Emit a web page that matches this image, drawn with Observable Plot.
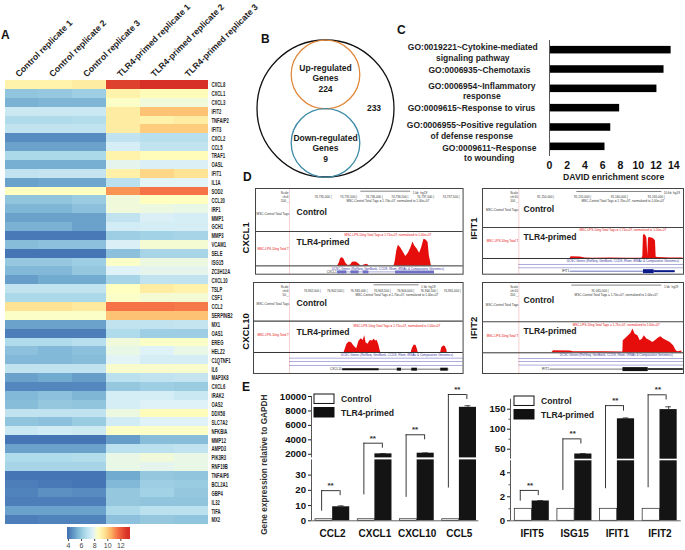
<!DOCTYPE html>
<html><head><meta charset="utf-8">
<style>
html,body{margin:0;padding:0;background:#fff}
#fig{position:relative;width:685px;height:550px;overflow:hidden;background:#fff}
.letter{position:absolute;font:bold 12px 'Liberation Sans',Arial,sans-serif;color:#111;line-height:1}
.lowtick{position:absolute;width:30px;text-align:right;font:bold 9.6px/11px 'Liberation Sans',Arial,sans-serif;color:#111;z-index:30}
</style>
<script src="https://cdn.jsdelivr.net/npm/d3@7"></script>
<script src="https://cdn.jsdelivr.net/npm/@observablehq/plot@0.6"></script>
</head><body><div id="fig"></div>
<script>
// ---------- Panel A data ----------
const replicates = ["Control replicate 1","Control replicate 2","Control replicate 3","TLR4-primed replicate 1","TLR4-primed replicate 2","TLR4-primed replicate 3"];
const genes = ["CXCL8","CXCL1","CXCL3","IFIT2","TNFAIP2","IFIT3","CXCL2","CCL5","TRAF1","OASL","IFIT1","IL1A","SOD2","CCL20","IRF1","MMP1","GCH1","MMP3","VCAM1","SELE","ISG15","ZC3H12A","CXCL10","TSLP","CSF1","CCL2","SERPINB2","MX1","OAS1","EREG","HELZ2","C1QTNF1","IL6","MAP3K8","CXCL6","IRAK2","OAS2","DDX58","SLC7A2","NFKBIA","MMP12","AMPD3","PIK3R3","RNF19B","TNFAIP6","BCL2A1","GBP4","IL32","TIFA","MX2"];
const heatRows = [
[9.0,9.0,9.2,12.6,13,13],[5.9,6.0,6.2,9,8.7,8.7],[5.4,5.5,5.5,8.5,8.2,8.2],[7.2,7.2,7.2,9.2,10.2,10.2],[6.6,6.6,6.7,9.2,9.0,9.2],
[7,7,7,9.2,10,10],[4.5,4.5,4.5,7,6.8,6.8],[5,5,5,7.5,7,7],[6.5,6.5,6.5,9,8.7,8.7],[5.3,5.3,5.3,7.9,7.6,7.6],
[7,7.1,7.1,9.1,9.8,9.5],[5,5.1,5.1,6.9,7.8,7.8],[8.6,8.6,8.6,11,11.5,11.5],[5.9,5.9,6.1,8.2,8.6,8.6],[5.5,5.5,5.8,8.2,8.1,8.0],
[5,5,5,7,7.6,7.5],[5.4,5.4,5,7.4,7.5,7.5],[4.1,4.1,4.1,6.2,6.3,6.4],[5.7,5.8,5.8,7.6,8.3,8.3],[4,4,4,5.8,6.4,6.4],
[6,6,6.2,8.5,8.1,8.1],[5.6,5.6,6,7.7,7.9,7.9],[4.9,5.2,5.2,6.4,7,7],[7,7,7,8.6,9.2,9],[6.5,6.5,6.5,8.5,8.3,8.3],
[9.5,9.5,9.3,11.5,11.5,11.4],[8.5,8.5,8.5,10.2,10.2,10.2],[5,5,5,7,7,7.1],[4.2,4.2,4.2,6.6,6.2,6.2],[6.6,6.6,6.8,8.2,8.5,8.5],
[5.8,5.6,5.8,8.0,7.7,8.0],[5.6,5.6,5.7,7.8,7.5,7.5],[7,7,7,8.4,8.4,8.4],[5.0,5.2,4.9,6.9,7,7.1],[4.4,4.4,4.4,6,6.2,6.1],
[5.6,5.8,5.5,7.5,7.5,7.2],[5.7,6,5.9,7.5,7.7,7.7],[7,7,7,8.1,8.7,8.7],[5.9,5.8,6.1,7.4,7.7,7.7],[7.2,7.4,7.3,8.5,8.5,8.5],
[3.9,3.9,3.7,4.9,5.7,5.7],[5,5,5,6.9,6.9,7],[6.6,6.6,6.7,8,8.2,8],[6.4,6.4,6.4,8,7.9,8],[4,4,4,5.2,6,5.9],
[4.2,4.1,4,5.6,6.2,6.1],[4.3,4.6,4.5,6,6.3,6],[4.2,4.2,4.2,6,5.9,5.9],[5,5,5,6.5,6.9,6.9],[4.2,4.3,4.3,5.8,6,5.9]];
const heatTicks = [4,6,8,10,12];

// ---------- Panel B data ----------
const vennGroups = ["Up-regulated\nGenes\n224","Down-regulated\nGenes\n9"];
const vennTotal = "233";

// ---------- Panel C data ----------
const goTerms = ["GO:0019221~Cytokine-mediated\nsignaling pathway","GO:0006935~Chemotaxis","GO:0006954~Inflammatory\nresponse","GO:0009615~Response to virus","GO:0006955~Positive regulation\nof defense response","GO:0009611~Response\nto wounding"];
const goScores = [13.7,12.9,12.1,7.9,6.9,6.25];
const goTicks = [0,2,4,6,8,10,12,14];

const cxcl1Pos = [-470,120,150,180,215,245,280,325,375,410,475,520,560,605,635,700,735,1220,1240,1275,1305,1350,1405,1450,1500,1545,1590,1625,1675,1720,1760,1805,1845,1885,1910,1935,1950,2390];
const cxcl1Tags = [0,0,17,46,52,42,17,2,6,23,25,17,4,0,6,10,0,0,21,95,130,115,84,59,80,109,151,126,105,80,115,168,164,147,63,25,0,0];
const cxcl10Pos = [-210,500,520,560,610,660,710,770,820,870,910,940,970,1010,1060,1110,1140,1180,1210,1250,1270,1285,1940,1960,2000,2040,2070,2085,2570,2590,2630,2670,2700,2710,3000];
const cxcl10Tags = [0,0,5,15,19,18,12,7,21,25,22,31,18,15,22,21,24,21,22,12,4,0,0,7,13,13,6,0,0,8,12,11,5,0,0];
const ifit1Pos = [-4610,2170,2300,3530,4200,5330,7590,9850,11890,12020,12110,12250,12430,12570,12700,12790,12930,13380,13560,13740,13830,14010,15730,17450];
const ifit1Tags = [0,0,6,5,2,1,2,1,1,6,80,83,78,70,8,70,72,70,66,60,5,3,2,2];
const ifit2Pos = [-980,-630,-610,-425,-390,-55,148,159,163,185,222,248,270,296,326,352,377,396,426,463,492,518,555,581,611,648,685,722,751,770,814];
const ifit2Tags = [0,0,14,12,7,7,5,5,84,96,119,135,165,130,119,84,96,119,96,84,72,84,103,112,96,84,72,49,14,7,12];
const cxcl1Ticks = ["74,735,000 |","74,735,500 |","74,736,000 |","74,736,500 |","74,737,000 |","74,737,500 |"];
const cxcl10Ticks = ["76,942,000 |","76,942,500 |","76,943,000 |","76,943,500 |","76,944,000 |","76,944,500 |","76,945,000 |"];
const ifit1Ticks = ["91,150,000 |","91,155,000 |","91,160,000 |","91,165,000 |"];
const ifit2Ticks = ["91,065,000 |"];

// ---------- Panel E data ----------
const treatments = ["Control","TLR4-primed"];
const genesLeft = ["CCL2","CXCL1","CXCL10","CCL5"];
const controlLeft = [1,1,1,1];
const primedLeft = [9.2,2060,2150,8500];
const errorLeft = [9.8,2090,2190,8720];
const bracketTopLeft = [19.8,3535,4700,10280];
const bracketLowLeft = [6.3,17,15.4,21.5];
const bracketHighLeft = [16.5,2840,4000,9580];
const genesRight = ["IFIT5","ISG15","IFIT1","IFIT2"];
const controlRight = [1,1,1,1];
const primedRight = [1.65,38,126,149];
const errorRight = [1.68,39,128,156];
const bracketTopRight = [2.53,75.8,159,186];
const bracketLowRight = [1.64,2.53,2.67,2.75];
const bracketHighRight = [2.1,63,145,173];
const upperTicksLeft = [2000,4000,6000,8000,10000];
const lowerTicksLeft = [0,10,20,30];
const upperTicksRight = [50,100,150];
const lowerTicksRight = [0,2,4];
const upperMinorRight = [75,125];
const lowerMinorRight = [1,3];

// ---------- helpers ----------
const FONT = "'Liberation Sans',Arial,sans-serif";
const INK = "#1a1a1a";
const fig = document.getElementById("fig");
const baseStyle = {fontFamily:FONT, background:"transparent", overflow:"visible", color:INK};
function place(svg,left,top,parent=fig){
  svg.style.position="absolute"; svg.style.left=left+"px"; svg.style.top=top+"px";
  svg.style.maxWidth="none"; parent.append(svg); return svg;
}
[["A",1,29],["B",261,33],["C",397,24],["D",243,171],["E",242,381]].forEach(([t,x,y])=>{
  const d=document.createElement("div"); d.className="letter"; d.textContent=t;
  d.style.left=x+"px"; d.style.top=y+"px"; fig.append(d);
});
const heatColor = {type:"linear",domain:[4,5.25,6.5,7.75,8.6,9.6,10.6,11.6,13],range:["#4575b4","#74add1","#abd9e9","#e0f3f8","#ffffbf","#fee090","#fdae61","#f46d43","#d73027"],clamp:true};

// ---------- A: heat map ----------
const heatCells = genes.flatMap((g,i)=>replicates.map((r,j)=>({gene:g,replicate:r,value:heatRows[i][j]})));
const heatSvg = place(Plot.plot({
  width:208,height:524,marginLeft:4.5,marginRight:0,marginTop:80,marginBottom:0,style:baseStyle,
  x:{domain:replicates,paddingInner:0,paddingOuter:0,round:false,axis:null},
  y:{domain:genes,paddingInner:0,paddingOuter:0,round:false,axis:null},
  color:heatColor,
  marks:[
    Plot.cell(heatCells,{x:"replicate",y:"gene",fill:"value",shapeRendering:"crispEdges"}),
    Plot.axisX({anchor:"top",tickSize:0,tickPadding:5,tickRotate:-45,label:null,fontSize:8.7,fontWeight:"bold",dx:-5,textAnchor:"start",fill:"#222"}),
    Plot.axisY({anchor:"right",tickSize:0,tickPadding:3,label:null,fontSize:7.5,fontWeight:"bold",textAnchor:"start",fill:"#222",className:"geneaxis"})
  ]}),0,0);
// tall, condensed gene labels
heatSvg.querySelectorAll(".geneaxis text").forEach(t=>{
  t.setAttribute("textLength",t.getComputedTextLength()*0.56);
  t.setAttribute("lengthAdjust","spacingAndGlyphs");
});
// colour key
const keySteps = d3.range(3.85,13.4,0.1);
place(Plot.plot({
  width:62.5,height:24,margin:0,marginBottom:12,style:baseStyle,
  x:{domain:[3.85,13.4],axis:null},y:{axis:null},color:heatColor,
  marks:[
    Plot.rectY(keySteps,{x1:d=>d,x2:d=>d+0.11,y1:0,y2:1,fill:d=>d,shapeRendering:"crispEdges"}),
    Plot.axisX(heatTicks,{tickSize:2,tickPadding:2,label:null,fontSize:7,fill:"#444",stroke:"#444"})
  ]}),67,527);

// ---------- B: Venn ----------
place(Plot.plot({
  width:150,height:150,margin:0,style:baseStyle,
  y:{type:"point",domain:vennGroups,range:[41,109.5],padding:0,round:false,axis:null},
  marks:[
    Plot.dot([vennTotal],{frameAnchor:"middle",r:68.5,stroke:"#111",strokeWidth:1.3,fill:"none"}),
    Plot.dot(vennGroups,{y:d=>d,frameAnchor:"middle",r:34.3,stroke:d=>d===vennGroups[0]?"#e0883a":"#3c8aa6",strokeWidth:1.3,fill:"none"}),
    Plot.text([vennGroups[0]],{y:d=>d,frameAnchor:"middle",text:d=>d,dy:3.5,fontSize:8.5,fontWeight:"bold",lineHeight:1.22,fill:INK}),
    Plot.text([vennGroups[1]],{y:d=>d,frameAnchor:"middle",text:d=>d,dy:5,fontSize:8.5,fontWeight:"bold",lineHeight:1.22,fill:INK}),
    Plot.text([vennTotal],{frameAnchor:"middle",text:d=>d,dx:48.5,fontSize:8.5,fontWeight:"bold",fill:INK})
  ]}),249.5,32.5);

// ---------- C: enrichment bars ----------
const goLabelDx = [-76.7,-70,-67.7,-78,-77.7,-60.2];
const goLabelDy = [2,0.3,2.2,-0.5,2.7,5.9];
place(Plot.plot({
  width:124.3,height:146,margin:0,marginBottom:30,style:baseStyle,
  x:{domain:[0,14],axis:null},
  y:{domain:goTerms,paddingInner:0.61,paddingOuter:0.305,round:false,axis:null},
  marks:[
    Plot.barX(goScores,{x:d=>d,y:(d,i)=>goTerms[i],fill:"#000"}),
    Plot.ruleX([0],{stroke:"#555",strokeWidth:1}),
    Plot.axisX(goTicks,{anchor:"bottom",tickSize:0,tickPadding:5,fontSize:10.5,fontWeight:"bold",fill:"#111",label:null,tickFormat:String}),
    Plot.text(["DAVID enrichment score"],{frameAnchor:"bottom",dy:23.5,dx:2,fontSize:8.7,fontWeight:"bold",fill:"#222"}),
    ...goTerms.map((t,i)=>Plot.text([t],{x:()=>0,y:d=>d,text:d=>d,dx:goLabelDx[i],dy:goLabelDy[i],textAnchor:"middle",fontSize:8.5,fontWeight:"bold",lineHeight:1.2,fill:"#222"}))
  ]}),548.7,40);

// ---------- D: genome browser panels ----------
const TINY = 3.1;
function browser(p){
  const r = "#e60d0d";
  return place(Plot.plot({
    width:p.w,height:p.h,margin:0,style:baseStyle,
    x:{type:"linear",domain:p.xDomain,range:[0,p.w],axis:null},
    y:{type:"linear",domain:[0,p.yMax],range:[p.base,p.top],axis:null},
    marks:[
      Plot.ruleX([p.pink],{stroke:"#f4b0b0",strokeWidth:0.6}),
      Plot.areaY(p.tags,{x:p.pos,y:p.tags,fill:r}),
      Plot.ruleY([0],{stroke:"#333",strokeWidth:1}),
      Plot.ruleY([0],{dy:p.ctl,stroke:"#444",strokeWidth:1.1}),
      Plot.frame({stroke:"#444",strokeWidth:1}),
      // header
      Plot.text(["Scale"],{x:()=>p.pink,dx:-1,frameAnchor:"top",dy:3,textAnchor:"end",fontSize:TINY,fill:"#333"}),
      Plot.text([p.chr],{x:()=>p.pink,dx:-1,frameAnchor:"top",dy:7,textAnchor:"end",fontSize:TINY,fill:"#333"}),
      Plot.text([p.yMax+" _"],{x:()=>p.pink,dx:-1,frameAnchor:"top",dy:11,textAnchor:"end",fontSize:TINY,fill:"#333"}),
      Plot.ruleY([0],{x1:()=>p.bar[0],x2:()=>p.bar[1],dy:p.barDy,stroke:"#333",strokeWidth:0.6}),
      Plot.text([p.barLabel],{x:()=>p.bar[1],frameAnchor:"top",dy:3,dx:2,textAnchor:"start",fontSize:TINY,fill:"#333"}),
      Plot.text(p.ticks,{x:(d,i)=>p.tickStep*i,frameAnchor:"top",dy:7,textAnchor:"end",fontSize:TINY,fill:"#333"}),
      Plot.text([p.ctlTotal],{x:()=>p.normX,frameAnchor:"top",dy:11,fontSize:TINY,fill:"#333"}),
      Plot.text([p.lpsTotal],{x:()=>p.normX,y:()=>p.yMax,dy:0.5,fontSize:TINY,fill:r}),
      Plot.text(["MSC-Control Total Tags"],{x:()=>p.pink,y:()=>0,dx:-0.5,dy:p.ctl-17,textAnchor:"end",fontSize:TINY,fill:"#333"}),
      Plot.text(["MSC-LPS-10ng Total T"],{x:()=>p.pink,y:()=>0,dx:-0.5,dy:-17,textAnchor:"end",fontSize:TINY,fill:r}),
      Plot.text(["UCSC Genes (RefSeq, GenBank, CCDS, Rfam, tRNAs & Comparative Genomics)"],{x:()=>p.normX,y:()=>0,dy:p.ucscDy,fontSize:TINY,fill:"#3a3aa0"}),
      // annotation rows and gene model
      ...p.rows.map(dy=>Plot.ruleY([0],{x1:()=>p.pink,x2:()=>p.xDomain[1],dy,stroke:"#5a5ab8",strokeWidth:0.5})),
      Plot.ruleY(p.line,{x1:d=>d[0],x2:d=>d[1],y:()=>0,dy:p.geneDy,stroke:p.geneColor,strokeWidth:0.6}),
      Plot.ruleY(p.thin,{x1:d=>d[0],x2:d=>d[1],y:()=>0,dy:p.geneDy,stroke:p.geneColor,strokeWidth:p.thinW}),
      Plot.ruleY(p.thick,{x1:d=>d[0],x2:d=>d[1],y:()=>0,dy:p.geneDy,stroke:p.geneColor,strokeWidth:p.thickW}),
      Plot.text([p.name],{x:()=>p.line[0][0],y:()=>0,dx:-1,dy:p.geneDy,textAnchor:"end",fontSize:TINY,fill:"#222"}),
      // big labels
      Plot.text(["Control"],{x:()=>p.pink,y:()=>0,dx:p.labelDx,dy:p.ctl+p.ctlLabelDy,textAnchor:"start",fontSize:8.6,fontWeight:"bold",fill:"#222"}),
      Plot.text(["TLR4-primed"],{x:()=>p.pink,y:()=>0,dx:p.labelDx,dy:p.lpsLabelDy,textAnchor:"start",fontSize:8.6,fontWeight:"bold",fill:"#222"}),
      Plot.text([p.name],{x:()=>p.xDomain[0],y:()=>0,dx:p.nameDx,dy:p.nameDy,rotate:-90,fontSize:9.5,fontWeight:"bold",fill:"#111"})
    ]}),p.left,p.frameTop);
}
const ctlTxt = "MSC-Control Total Tags = 1.70e+07, normalized to 1.00e+07";
const lpsTxt = "MSC-LPS-10ng Total Tags = 1.71e+07, normalized to 1.00e+07";
browser({name:"CXCL1",chr:"chr4",left:254.7,frameTop:188.3,w:207.6,h:85.7,xDomain:[-1482,2568],yMax:200,base:77.4,top:45.7,ctl:-34.4,pink:-819,
  pos:cxcl1Pos,tags:cxcl1Tags,ticks:cxcl1Ticks,tickStep:500,bar:[572,1547],barDy:-74.7,barLabel:"1 kb  hg19",normX:1100,ctlTotal:ctlTxt,lpsTotal:lpsTxt,ucscDy:3,rows:[],
  line:[[120,2010]],thin:[],thinW:1,thick:[[120,300],[380,540],[620,730],[1250,2010]],thickW:3,geneDy:6,geneColor:"#6f70c4",
  labelDx:7,ctlLabelDy:-19,lpsLabelDy:-24,nameDx:-9.7,nameDy:-28});
browser({name:"CXCL10",chr:"chr4",left:252.7,frameTop:281.7,w:209.6,h:91,xDomain:[-1442,3049],yMax:50,base:70,top:42.6,ctl:-31.4,pink:-671,
  pos:cxcl10Pos,tags:cxcl10Tags,ticks:cxcl10Ticks,tickStep:500,bar:[1142,2106],barDy:-67.7,barLabel:"1 kb  hg19",normX:1630,ctlTotal:ctlTxt,lpsTotal:lpsTxt,ucscDy:2.7,rows:[5.7,9,13],
  line:[[470,2750]],thin:[[470,1250]],thinW:2,thick:[[1640,1730],[1950,2070],[2570,2730]],thickW:3,geneDy:16.7,geneColor:"#111",
  labelDx:7,ctlLabelDy:-18,lpsLabelDy:-20.3,nameDx:-7.7,nameDy:-21});
browser({name:"IFIT1",chr:"chr10",left:482.3,frameTop:188.3,w:201,h:85.7,xDomain:[-9718,17538],yMax:100,base:70,top:41,ctl:-31,pink:-4791,
  pos:ifit1Pos,tags:ifit1Tags,ticks:ifit1Ticks,tickStep:5000,bar:[3074,14600],barDy:-67,barLabel:"10 kb  hg19",normX:9310,ctlTotal:ctlTxt,lpsTotal:lpsTxt,ucscDy:2.7,rows:[6,9.3],
  line:[[2170,16410]],thin:[[13560,16410]],thinW:2,thick:[[12110,13560]],thickW:4,geneDy:12.7,geneColor:"#0b1a8a",
  labelDx:4.7,ctlLabelDy:-18,lpsLabelDy:-21.7,nameDx:-9,nameDy:-30});
browser({name:"IFIT2",chr:"chr10",left:482.3,frameTop:281.7,w:201,h:91,xDomain:[-1399,832],yMax:200,base:70.3,top:41.6,ctl:-31,pink:-995,
  pos:ifit2Pos,tags:ifit2Tags,ticks:ifit2Ticks,tickStep:500,bar:[-407,592],barDy:-67.7,barLabel:"1 kb  hg19",normX:85,ctlTotal:ctlTxt,lpsTotal:lpsTxt,ucscDy:2.3,rows:[5.7,8.7,12.3],
  line:[[-650,830]],thin:[[440,830]],thinW:1.5,thick:[[160,440]],thickW:4,geneDy:16.3,geneColor:"#111",
  labelDx:4.7,ctlLabelDy:-21.7,lpsLabelDy:-21.3,nameDx:-9,nameDy:-25});

// ---------- E: broken-axis bars ----------
function qpcr(c){
  const rows = c.genes.map((gene,i)=>({gene,control:c.control[i],primed:c.primed[i],err:c.err[i],top:c.top[i],low:c.low[i],high:c.high[i]}));
  const half = c.band/2;
  return place(Plot.plot({
    width:c.width,height:180,marginLeft:c.axisX,marginRight:0,marginTop:0,marginBottom:29.7,style:baseStyle,
    x:{type:"band",domain:c.genes,range:c.xRange,paddingInner:0.19,paddingOuter:0,round:false,axis:null},
    y:{type:"linear",domain:c.yDomain,range:c.yRange,axis:null},
    marks:[
      Plot.ruleX(rows,{x:"gene",y1:"primed",y2:"err",dx:half/2,stroke:"#222",strokeWidth:0.8}),
      Plot.tickY(rows,{x:"gene",y:"err",insetLeft:half*1.5-3,insetRight:half*0.5-3,stroke:"#222",strokeWidth:0.8}),
      Plot.barY(rows,{x:"gene",y:"control",insetRight:half,fill:"white",stroke:"#222",strokeWidth:0.7}),
      Plot.barY(rows,{x:"gene",y:"primed",insetLeft:half,fill:"#141414"}),
      Plot.rect([0],{y1:()=>c.yDomain[1],y2:()=>c.yDomain[2],fill:"white"}),
      Plot.ruleY([0],{stroke:"#555",strokeWidth:0.9}),
      Plot.axisX({tickSize:0,tickPadding:9,label:null,fontSize:10,fontWeight:"bold",fill:"#111"}),
      // significance brackets
      Plot.ruleX(rows,{x:"gene",y1:"low",y2:"top",dx:c.bLeft,stroke:"#222",strokeWidth:0.9}),
      Plot.ruleX(rows,{x:"gene",y1:"high",y2:"top",dx:c.bRight,stroke:"#222",strokeWidth:0.9}),
      Plot.tickY(rows,{x:"gene",y:"top",insetLeft:c.band/2+c.bLeft,insetRight:c.band/2-c.bRight,stroke:"#222",strokeWidth:0.9}),
      Plot.text(rows,{x:"gene",y:"top",text:()=>"**",dx:-2,dy:-5,fontSize:8,fontWeight:"bold",fill:"#333"}),
      ...(c.title?[Plot.text([c.title],{frameAnchor:"left",textAnchor:"middle",rotate:-90,dx:c.titleDx,dy:c.titleDy,fontSize:8.3,fontWeight:"bold",fill:"#333"})]:[])
    ]}),c.left,370);
}
// one y-axis segment of a broken axis, as its own small chart above everything else
function axisSegment(c,ticks,minor,y0,y1,r0,r1,htmlLabels){
  const svg = Plot.plot({
    width:c.width,height:180,marginLeft:c.axisX,marginRight:0,marginTop:0,marginBottom:29.7,style:baseStyle,
    x:{type:"linear",domain:[0,1],range:[c.axisX,c.width],axis:null},
    y:{type:"linear",domain:[y0,y1],range:[r0,r1],axis:null},
    marks:[
      Plot.ruleX([0],{y1:()=>y0,y2:()=>y1,stroke:"#444",strokeWidth:0.9}),
      Plot.axisY(ticks,{tickSize:3,tickPadding:2,label:null,tickFormat:htmlLabels?()=>"":String,fontSize:9.6,fontWeight:"bold",fill:"#111"}),
      ...(minor.length?[Plot.axisY(minor,{tickSize:1.5,label:null,tickFormat:()=>"",stroke:"#555"})]:[])
    ]});
  svg.style.zIndex = 20;
  place(svg,c.left,370,document.body);
  if (htmlLabels) {
    const yScale = svg.scale("y");
    ticks.forEach(v=>{
      const d=document.createElement("div"); d.className="lowtick"; d.textContent=String(v);
      d.style.left=(c.left+c.axisX-5-30)+"px"; d.style.top=(370+yScale.apply(v)-5.5)+"px";
      document.body.append(d);
    });
  }
  return svg;
}
const chartLeft = {left:240,width:238.3,axisX:71,band:34.3,xRange:[75,236],genes:genesLeft,control:controlLeft,primed:primedLeft,err:errorLeft,top:bracketTopLeft,low:bracketLowLeft,high:bracketHighLeft,
  yDomain:[0,40,1500,10000,11500],yRange:[150.3,89.4,87.4,26,15.3],bLeft:-11,bRight:7.5,title:"Gene expression relative to GAPDH",titleDx:-47,titleDy:19};
const chartRight = {left:470,width:210.7,axisX:40,band:34.7,xRange:[44.3,206.7],genes:genesRight,control:controlRight,primed:primedRight,err:errorRight,top:bracketTopRight,low:bracketLowRight,high:bracketHighRight,
  yDomain:[0,5,25,150,215],yRange:[150.3,90.3,88.7,38.7,12.7],bLeft:-11.8,bRight:6.2};
qpcr(chartLeft);
qpcr(chartRight);

function treatmentKey(left,top){
  return place(Plot.plot({
    width:90,height:23,margin:0,marginRight:70,style:baseStyle,
    x:{domain:[0,1],axis:null},
    y:{domain:treatments,paddingInner:0.3,paddingOuter:0,round:false,axis:null},
    color:{domain:treatments,range:["#fff","#111"]},
    marks:[
      Plot.barX(treatments,{x1:()=>0,x2:()=>1,y:d=>d,fill:d=>d,stroke:"#111",strokeWidth:1}),
      Plot.axisY({anchor:"right",tickSize:0,tickPadding:6.5,label:null,fontSize:8.6,fontWeight:"bold",fill:"#222"})
    ]}),left,top);
}
treatmentKey(314,394.3);
treatmentKey(514.3,395.5);
axisSegment(chartLeft,lowerTicksLeft,[],0,40,150.3,89.4,true);
axisSegment(chartLeft,upperTicksLeft,[],1500,10000,87.4,26,false);
axisSegment(chartRight,lowerTicksRight,lowerMinorRight,0,5,150.3,90.3,true);
axisSegment(chartRight,upperTicksRight,upperMinorRight,25,175,88.7,28.7,false);
</script></body></html>
